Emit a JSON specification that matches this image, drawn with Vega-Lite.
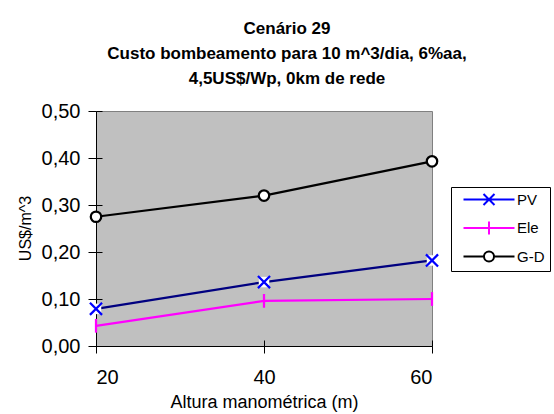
{
  "$schema": "https://vega.github.io/schema/vega-lite/v6.json",
  "width": 336,
  "height": 235,
  "autosize": {"type": "none"},
  "padding": {"left": 96, "top": 111, "right": 122, "bottom": 68},
  "background": "white",
  "title": {
    "text": "Cenário 29",
    "subtitle": ["Custo bombeamento para 10 m^3/dia, 6%aa,", "4,5US$/Wp, 0km de rede"],
    "anchor": "middle",
    "dx": 23,
    "font": "Liberation Sans",
    "fontSize": 17,
    "fontWeight": "bold",
    "color": "black",
    "subtitleFont": "Liberation Sans",
    "subtitleFontSize": 17,
    "subtitleFontWeight": "bold",
    "subtitleColor": "black",
    "subtitleLineHeight": 25,
    "subtitlePadding": 8,
    "offset": 13
  },
  "config": {
    "view": {"fill": "#C0C0C0", "stroke": "#808080", "strokeWidth": 1},
    "axis": {
      "labelFont": "Liberation Sans",
      "titleFont": "Liberation Sans",
      "labelColor": "black",
      "titleColor": "black",
      "domainColor": "black",
      "tickColor": "black",
      "grid": false,
      "titleFontWeight": "normal"
    }
  },
  "data": {
    "values": [
      {"h": 20, "serie": "PV", "v": 0.079},
      {"h": 40, "serie": "PV", "v": 0.136},
      {"h": 60, "serie": "PV", "v": 0.182},
      {"h": 20, "serie": "Ele", "v": 0.043},
      {"h": 40, "serie": "Ele", "v": 0.096},
      {"h": 60, "serie": "Ele", "v": 0.100},
      {"h": 20, "serie": "G-D", "v": 0.275},
      {"h": 40, "serie": "G-D", "v": 0.320},
      {"h": 60, "serie": "G-D", "v": 0.393}
    ]
  },
  "resolve": {"axis": {"x": "independent", "y": "independent"}},
  "layer": [
    {
      "mark": {"type": "line", "strokeWidth": 2.25},
      "encoding": {
        "x": {
          "field": "h", "type": "quantitative",
          "scale": {"domain": [20, 60], "nice": false, "zero": false},
          "axis": {
            "values": [20, 40, 60],
            "labelFontSize": 20,
            "tickSize": 7,
            "labelPadding": 14,
            "title": "Altura manométrica (m)",
            "titleFontSize": 18,
            "titleBaseline": "alphabetic",
            "titleY": 61
          }
        },
        "y": {
          "field": "v", "type": "quantitative",
          "scale": {"domain": [0, 0.5], "nice": false},
          "axis": {
            "values": [0, 0.1, 0.2, 0.3, 0.4, 0.5],
            "labelExpr": "replace(format(datum.value, '.2f'), '.', ',')",
            "labelFontSize": 20,
            "tickSize": 8,
            "labelPadding": 8,
            "title": "US$/m^3",
            "titleFontSize": 16,
            "titleAngle": -90,
            "titleBaseline": "alphabetic",
            "titleAlign": "center",
            "titleX": -66,
            "titleY": 117
          }
        },
        "color": {
          "field": "serie", "type": "nominal",
          "scale": {"domain": ["Ele", "G-D", "PV"], "range": ["#FF00FF", "#000000", "#000080"]},
          "legend": null
        }
      }
    },
    {
      "transform": [{"filter": "datum.serie === 'PV'"}],
      "mark": {"type": "point", "shape": "square", "filled": true, "fill": "white", "size": 110, "strokeWidth": 0, "opacity": 1},
      "encoding": {
        "x": {
          "field": "h", "type": "quantitative",
          "axis": {"orient": "bottom", "offset": -6, "tickSize": 6, "labels": false, "domain": false, "title": null, "values": [20, 40, 60]}
        },
        "y": {
          "field": "v", "type": "quantitative",
          "axis": {"orient": "left", "offset": -6, "tickSize": 6, "labels": false, "domain": false, "title": null, "values": [0, 0.1, 0.2, 0.3, 0.4, 0.5]}
        }
      }
    },
    {
      "transform": [{"filter": "datum.serie === 'PV'"}],
      "mark": {"type": "point", "shape": "M-1.1,-1.1L1.1,1.1M-1.1,1.1L1.1,-1.1", "filled": false, "stroke": "#0000FF", "size": 121, "strokeWidth": 2.25, "opacity": 1},
      "encoding": {
        "x": {"field": "h", "type": "quantitative", "axis": null},
        "y": {"field": "v", "type": "quantitative", "axis": null}
      }
    },
    {
      "transform": [{"filter": "datum.serie === 'Ele'"}],
      "mark": {"type": "point", "shape": "M0,-1.25V1.25", "filled": false, "stroke": "#FF00FF", "size": 121, "strokeWidth": 2.25, "opacity": 1},
      "encoding": {
        "x": {"field": "h", "type": "quantitative", "axis": null},
        "y": {"field": "v", "type": "quantitative", "axis": null}
      }
    },
    {
      "transform": [{"filter": "datum.serie === 'G-D'"}],
      "mark": {"type": "point", "shape": "M0.95,0A0.95,0.95 0 1,1 -0.95,0A0.95,0.95 0 1,1 0.95,0Z", "filled": true, "fill": "white", "stroke": "#000000", "size": 121, "strokeWidth": 2.25, "opacity": 1},
      "encoding": {
        "x": {"field": "h", "type": "quantitative", "axis": null},
        "y": {"field": "v", "type": "quantitative", "axis": null}
      }
    },
    {
      "mark": {"type": "point", "filled": true, "fill": "white", "size": 100, "strokeWidth": 2, "opacity": 0},
      "encoding": {
        "x": {"field": "h", "type": "quantitative", "axis": null},
        "y": {"field": "v", "type": "quantitative", "axis": null},
        "shape": {
          "field": "serie", "type": "nominal",
          "scale": {
            "domain": ["PV", "Ele", "G-D"],
            "range": [
              "M0,0H10.2M4,-1.1L6.2,1.1M4,1.1L6.2,-1.1",
              "M0,0H10.2M5.1,-1.3V1.3",
              "M0,0H4.1M6.1,0H10.2M6.1,0A1,1 0 1,1 4.1,0A1,1 0 1,1 6.1,0Z"
            ]
          },
          "legend": {
            "title": null,
            "orient": "none",
            "legendX": 355,
            "legendY": 76,
            "fillColor": "white",
            "strokeColor": "black",
            "padding": 5,
            "symbolSize": 100,
            "symbolStrokeWidth": 2,
            "symbolOpacity": 1,
            "symbolFillColor": "white",
            "labelFont": "Liberation Sans",
            "labelFontSize": 15,
            "labelColor": "black",
            "labelOffset": 46,
            "rowPadding": 8.5
          }
        },
        "stroke": {
          "field": "serie", "type": "nominal",
          "scale": {"domain": ["PV", "Ele", "G-D"], "range": ["#0000FF", "#FF00FF", "#000000"]},
          "legend": {
            "title": null,
            "orient": "none",
            "legendX": 355,
            "legendY": 76,
            "fillColor": "white",
            "strokeColor": "black",
            "padding": 5,
            "symbolSize": 100,
            "symbolStrokeWidth": 2,
            "symbolOpacity": 1,
            "symbolFillColor": "white",
            "labelFont": "Liberation Sans",
            "labelFontSize": 15,
            "labelColor": "black",
            "labelOffset": 46,
            "rowPadding": 8.5
          }
        }
      }
    }
  ]
}
